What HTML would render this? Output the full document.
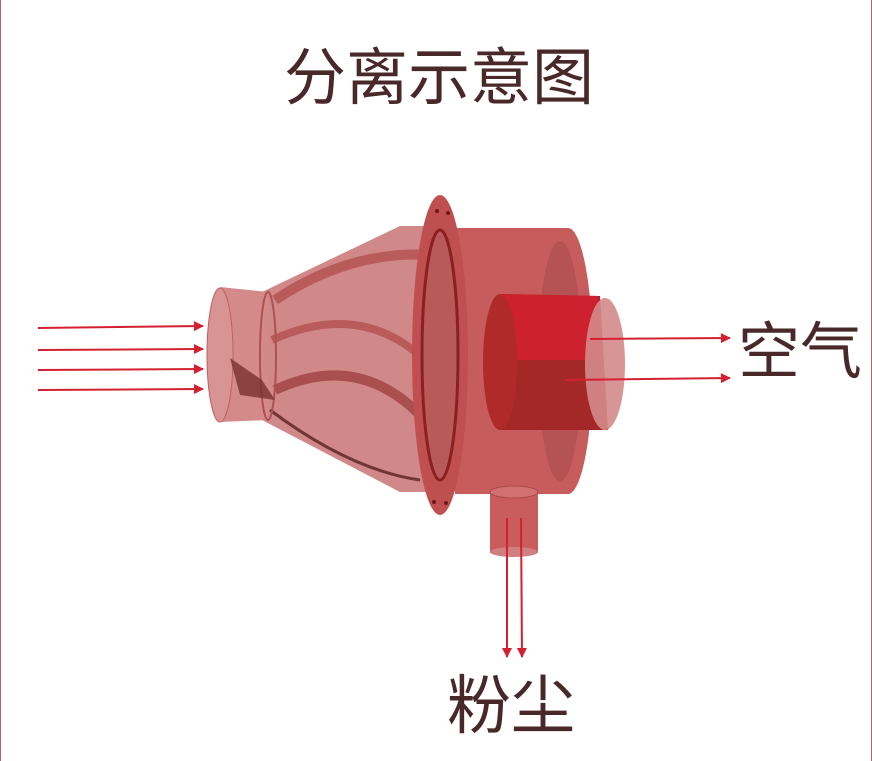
<!DOCTYPE html>
<html><head><meta charset="utf-8"><style>
html,body{margin:0;padding:0;background:#fff;}
body{width:872px;height:761px;position:relative;overflow:hidden;}
.t{position:absolute;font-family:"Liberation Sans","Noto Sans CJK SC",sans-serif;color:#482828;white-space:nowrap;line-height:1;}
</style></head><body>
<svg width="872" height="761" style="position:absolute;left:0;top:0">
<defs>
<marker id="a" viewBox="0 0 10 10" refX="9" refY="5" markerWidth="20" markerHeight="10" orient="auto" markerUnits="userSpaceOnUse"><path d="M0,0L10,5L0,10z" fill="#d42030"/></marker>
</defs>
<line x1="0.5" y1="0" x2="0.5" y2="761" stroke="#c06060" stroke-width="1"/>
<line x1="871.5" y1="0" x2="871.5" y2="761" stroke="#c06060" stroke-width="1"/>
<!-- main cylinder -->
<path d="M455,228 L568,228 A25,133 0 0 1 568,494 L455,494 Z" fill="#c75c5c"/>
<ellipse cx="560" cy="361" rx="22" ry="120" fill="#b05050" opacity="0.8"/>
<!-- cone -->
<path d="M262,292 L400,226 L440,226 L440,492 L400,492 L262,420 Z" fill="#d08888"/>
<path d="M275,300 Q350,250 430,255" stroke="#b04848" stroke-width="10" fill="none" opacity="0.7"/>
<path d="M272,340 Q360,300 425,360" stroke="#b04848" stroke-width="8" fill="none" opacity="0.7"/>
<path d="M275,390 Q360,350 425,420" stroke="#9a3838" stroke-width="10" fill="none" opacity="0.7"/>
<path d="M270,410 Q350,470 420,480" stroke="#5a2020" stroke-width="3" fill="none" opacity="0.8"/>
<!-- inlet -->
<path d="M220,287 L268,292 L268,420 L220,422 Z" fill="#d58a8a"/>
<ellipse cx="220" cy="355" rx="13" ry="67" fill="#d89393" stroke="#c06060"/>
<ellipse cx="268" cy="356" rx="8" ry="64" fill="none" stroke="#b05050" stroke-width="2"/>
<path d="M230,358 L262,380 L275,400 L240,395 Z" fill="#7a3030" opacity="0.8"/>
<!-- flange -->
<ellipse cx="440" cy="355" rx="28" ry="160" fill="#c05050"/>
<ellipse cx="440" cy="355" rx="18" ry="125" fill="#b85a5a" stroke="#8a2020" stroke-width="3"/>
<circle cx="437" cy="211" r="2" fill="#6a1a1a"/><circle cx="448" cy="213" r="2" fill="#6a1a1a"/>
<circle cx="434" cy="502" r="2" fill="#6a1a1a"/><circle cx="446" cy="503" r="2" fill="#6a1a1a"/>
<!-- outlet cylinder -->
<path d="M500,294 L600,296 L608,430 L500,430 Z" fill="#a52828"/>
<path d="M500,294 L598,296 L598,360 L500,360 Z" fill="#d42030" opacity="0.85"/>
<ellipse cx="500" cy="362" rx="17" ry="68" fill="#b02a2a"/>
<ellipse cx="605" cy="364" rx="20" ry="66" fill="#d48a8a" opacity="0.9"/>
<!-- dust pipe -->
<rect x="490" y="490" width="48" height="63" fill="#c95c5c"/>
<ellipse cx="514" cy="492" rx="24" ry="6" fill="#d07070" stroke="#b04848"/>
<ellipse cx="514" cy="552" rx="24" ry="5" fill="#d08080"/>
<!-- arrows -->
<g stroke="#d42030" stroke-width="2" marker-end="url(#a)">
<line x1="38" y1="328" x2="203" y2="326"/>
<line x1="38" y1="350" x2="203" y2="349"/>
<line x1="38" y1="370" x2="203" y2="369"/>
<line x1="38" y1="390" x2="203" y2="389"/>
<line x1="590" y1="339" x2="730" y2="338"/>
<line x1="565" y1="380" x2="730" y2="378"/>
<line x1="507" y1="518" x2="507" y2="657"/>
<line x1="521" y1="518" x2="522" y2="657"/>
</g>
</svg>
<div class="t" style="left:284px;top:48px;font-size:62px;letter-spacing:0px">分离示意图</div>
<div class="t" style="left:738px;top:322px;font-size:62px">空气</div>
<div class="t" style="left:447px;top:674px;font-size:64px">粉尘</div>
</body></html>
